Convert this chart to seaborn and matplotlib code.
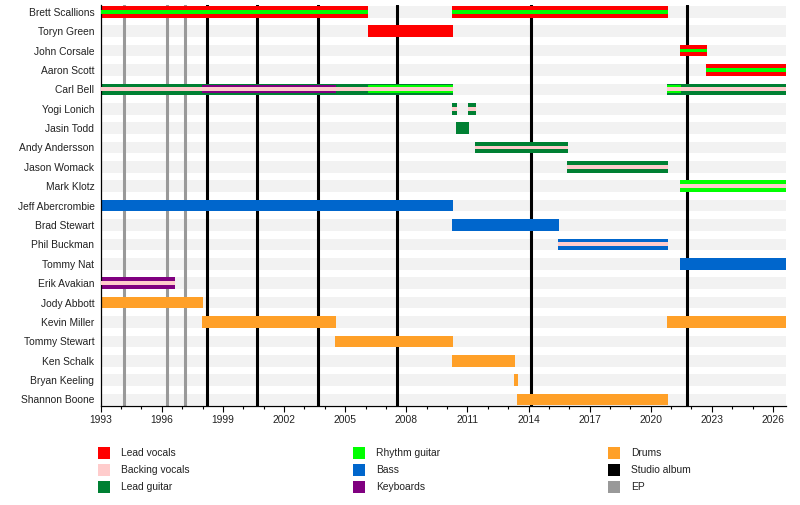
import matplotlib
matplotlib.use("Agg")
import matplotlib.pyplot as plt
from matplotlib.patches import Rectangle
import seaborn as sns

# ---------------- data ----------------
END = 2026.64
START = 1993.0

members = ["Brett Scallions", "Toryn Green", "John Corsale", "Aaron Scott", "Carl Bell",
           "Yogi Lonich", "Jasin Todd", "Andy Andersson", "Jason Womack", "Mark Klotz",
           "Jeff Abercrombie", "Brad Stewart", "Phil Buckman", "Tommy Nat", "Erik Avakian",
           "Jody Abbott", "Kevin Miller", "Tommy Stewart", "Ken Schalk", "Bryan Keeling",
           "Shannon Boone"]

lead_vocals = [("Brett Scallions", 1993.0, 2006.12), ("Brett Scallions", 2010.25, 2020.85),
               ("Toryn Green", 2006.12, 2010.30), ("John Corsale", 2021.44, 2022.76),
               ("Aaron Scott", 2022.71, END)]
backing_vocals = [("Carl Bell", 1993.0, 2010.30), ("Carl Bell", 2020.80, END),
                  ("Yogi Lonich", 2010.25, 2010.50), ("Yogi Lonich", 2011.03, 2011.42),
                  ("Andy Andersson", 2011.37, 2015.94), ("Jason Womack", 2015.89, 2020.85),
                  ("Mark Klotz", 2021.44, END), ("Phil Buckman", 2015.45, 2020.85),
                  ("Erik Avakian", 1993.0, 1996.65)]
lead_guitar = [("Carl Bell", 1993.0, 2010.30), ("Carl Bell", 2020.80, END),
               ("Yogi Lonich", 2010.25, 2010.50), ("Yogi Lonich", 2011.03, 2011.42),
               ("Jasin Todd", 2010.44, 2011.08), ("Andy Andersson", 2011.37, 2015.94),
               ("Jason Womack", 2015.89, 2020.85)]
rhythm_guitar = [("Brett Scallions", 1993.0, 2006.12), ("Brett Scallions", 2010.25, 2020.85),
                 ("Carl Bell", 2006.12, 2010.30), ("Carl Bell", 2020.80, 2021.47),
                 ("John Corsale", 2021.44, 2022.76), ("Aaron Scott", 2022.71, END),
                 ("Mark Klotz", 2021.44, END)]
bass = [("Jeff Abercrombie", 1993.0, 2010.30), ("Brad Stewart", 2010.25, 2015.50),
        ("Phil Buckman", 2015.45, 2020.85), ("Tommy Nat", 2021.44, END)]
keyboards = [("Carl Bell", 1997.97, 2004.55), ("Erik Avakian", 1993.0, 1996.65)]
drums = [("Jody Abbott", 1993.0, 1998.02), ("Kevin Miller", 1997.97, 2004.55),
         ("Kevin Miller", 2020.80, END), ("Tommy Stewart", 2004.50, 2010.30),
         ("Ken Schalk", 2010.25, 2013.34), ("Bryan Keeling", 2013.29, 2013.49),
         ("Shannon Boone", 2013.44, 2020.85)]
studio_albums = [1998.20, 2000.69, 2003.68, 2007.53, 2014.14, 2021.80]
eps = [1994.16, 1996.27, 1997.15]
major_years = list(range(1993, 2027, 3))
minor_years = list(range(1993, 2027, 1))

role_names = ["Lead vocals", "Backing vocals", "Lead guitar", "Rhythm guitar", "Bass",
              "Keyboards", "Drums"]
role_spans = [lead_vocals, backing_vocals, lead_guitar, rhythm_guitar, bass, keyboards, drums]
role_colors = ["#FF0000", "#FFCCCC", "#008033", "#00FF00", "#0066CC", "#800080", "#FFA028"]
legend_labels = role_names + ["Studio album", "EP"]
legend_colors = role_colors + ["#000000", "#999999"]

# ---------------- style ----------------
sns.set_theme(style="white")
plt.rcParams["font.family"] = ["Liberation Sans", "DejaVu Sans"]

fig = plt.figure(figsize=(8.0, 5.05), dpi=100)
L, R, T, B = 100.7, 786.0, 5.0, 405.5
ax = fig.add_axes([L / 800, 1 - B / 505, (R - L) / 800, (B - T) / 505])

FULL, MID, THIN = 0.6, 0.41, 0.2
ypos = {m: i for i, m in enumerate(members)}

# background stripes
ax.barh(range(len(members)), END - START, left=START, height=FULL,
        color="#F2F2F2", zorder=0, linewidth=0)

# markers for releases
for x in eps:
    ax.axvline(x, color="#999999", lw=2.2, zorder=1)
for x in studio_albums:
    ax.axvline(x, color="#000000", lw=2.2, zorder=1)

# determine layer of each role per member
primary_order = ["Lead vocals", "Lead guitar", "Rhythm guitar", "Bass", "Keyboards", "Drums"]
member_roles = {m: set() for m in members}
for name, spans in zip(role_names, role_spans):
    for m, s, e in spans:
        member_roles[m].add(name)

def layer(m, role):
    if role == "Backing vocals":
        return THIN
    prim = next(r for r in primary_order if r in member_roles[m])
    if role == prim:
        return FULL
    return MID if "Backing vocals" in member_roles[m] else THIN

for name, spans, col in zip(role_names, role_spans, role_colors):
    for m, s, e in spans:
        h = layer(m, name)
        z = {FULL: 2, MID: 3, THIN: 4}[h]
        ax.barh(ypos[m], e - s, left=s, height=h, color=col, zorder=z, linewidth=0)

ax.set_xlim(START, END)
ax.set_ylim(len(members) - 1 + 0.31, -0.35)
ax.set_yticks(range(len(members)))
ax.set_yticklabels(members, fontsize=7.4)
ax.set_xticks(major_years)
ax.set_xticklabels([str(y) for y in major_years])
ax.set_xticks(minor_years, minor=True)
ax.tick_params(axis="x", which="major", length=4.3, width=0.8, direction="out",
               labelsize=7.4, pad=2.5, bottom=True, color="black")
ax.tick_params(axis="x", which="minor", length=2.5, width=0.8, direction="out",
               bottom=True, color="black")
ax.tick_params(axis="y", length=0, pad=4.5)
for lab in ax.get_xticklabels() + ax.get_yticklabels():
    lab.set_color("#222222")
sns.despine(ax=ax, top=True, right=True)
for sp in ("left", "bottom"):
    ax.spines[sp].set_color("black")
    ax.spines[sp].set_linewidth(0.9)
ax.grid(False)
ax.set_facecolor("white")

# legend (3 columns x 3 rows)
for i, (lab, col) in enumerate(zip(legend_labels, legend_colors)):
    c, r = divmod(i, 3)
    x0 = 98 + 255 * c
    y0 = 447.3 + 17 * r
    fig.add_artist(Rectangle((x0 / 800, 1 - (y0 + 12) / 505), 12 / 800, 12 / 505,
                             transform=fig.transFigure, color=col, linewidth=0))
    fig.text((x0 + 22.7) / 800, 1 - (y0 + 6) / 505, lab, fontsize=7.4,
             va="center", ha="left", color="#222222")

fig.savefig("out.png", dpi=100)
